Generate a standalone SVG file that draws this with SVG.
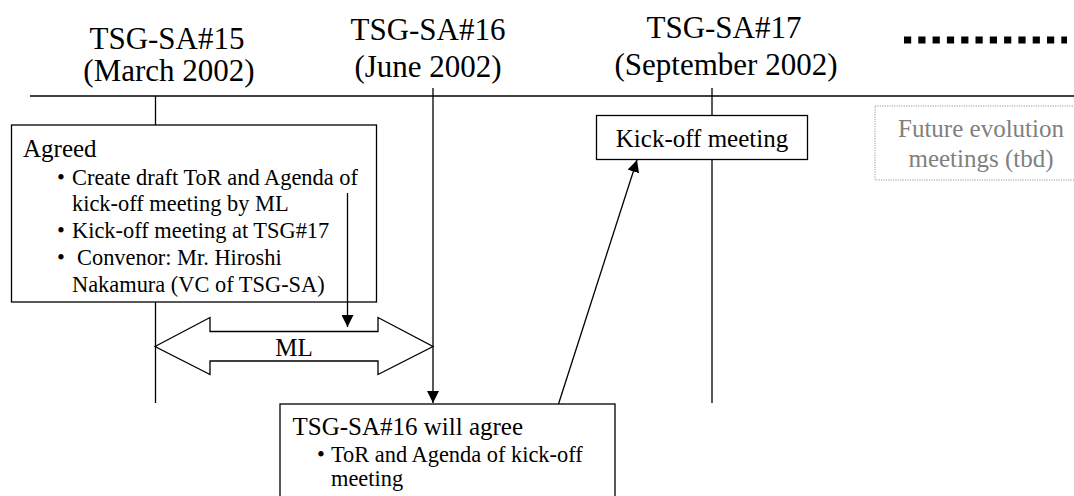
<svg xmlns="http://www.w3.org/2000/svg" width="1074" height="496" viewBox="0 0 1074 496" font-family="'Liberation Serif', 'Times New Roman', 'DejaVu Serif', serif">
<style>
text{font-family:'Liberation Serif','Times New Roman','DejaVu Serif',serif;fill:#000}
.title{font-size:31px;text-anchor:middle}
.head{font-size:25px}
.body{font-size:22.4px}
.line{stroke:#000;stroke-width:1.3;fill:none}
.box{fill:#fff;stroke:#000;stroke-width:1.3}
</style>
<defs>
<marker id="ah" viewBox="0 0 12 12" refX="12" refY="6" markerWidth="12" markerHeight="12" markerUnits="userSpaceOnUse" orient="auto">
<path d="M0,0 L12,6 L0,12 Z" fill="#000"/>
</marker>
</defs>
<rect width="1074" height="496" fill="#fff"/>

<g id="titles">
<text class="title" x="167" y="49">TSG-SA#15</text>
<text class="title" x="169" y="81">(March 2002)</text>
<text class="title" x="428" y="40">TSG-SA#16</text>
<text class="title" x="428" y="77">(June 2002)</text>
<text class="title" x="724" y="38">TSG-SA#17</text>
<text class="title" x="726" y="75">(September 2002)</text>
<line x1="904" y1="40" x2="1067" y2="40" stroke="#000" stroke-width="7" stroke-dasharray="7.2 7.1"/>
</g>

<g id="timeline">
<line class="line" x1="30" y1="96" x2="1074" y2="96" stroke-width="1.5"/>
<line class="line" x1="155.5" y1="96" x2="155.5" y2="403"/>
<line class="line" x1="712" y1="88" x2="712" y2="403"/>
</g>

<g id="agreed">
<rect class="box" x="11.5" y="125" width="365" height="177"/>
<text class="head" x="23" y="157">Agreed</text>
<text class="body" x="57" y="185">•</text>
<text class="body" x="72" y="185">Create draft ToR and Agenda of</text>
<text class="body" x="72" y="211">kick-off meeting by ML</text>
<text class="body" x="57" y="238">•</text>
<text class="body" x="72" y="238">Kick-off meeting at TSG#17</text>
<text class="body" x="57" y="265">•</text>
<text class="body" x="77" y="265">Convenor: Mr. Hiroshi</text>
<text class="body" x="72" y="291.5">Nakamura (VC of TSG-SA)</text>
</g>

<g id="kickoff">
<rect class="box" x="596.5" y="115.5" width="211" height="44"/>
<text class="head" x="702" y="147" text-anchor="middle">Kick-off meeting</text>
</g>

<g id="future">
<rect x="875" y="106" width="215" height="74" fill="#fff" stroke="#999" stroke-width="1" stroke-dasharray="1.2 1.2"/>
<text class="head" x="981" y="137" text-anchor="middle" style="fill:#808080">Future evolution</text>
<text class="head" x="981" y="166.5" text-anchor="middle" style="fill:#808080">meetings (tbd)</text>
</g>

<g id="ml">
<path d="M155,346.5 L210,317.5 L210,331.5 L378,331.5 L378,317.5 L433,346.5 L378,374.5 L378,361 L210,361 L210,374.5 Z" fill="#fff" stroke="#000" stroke-width="1.3"/>
<text class="head" x="294" y="356" text-anchor="middle">ML</text>
</g>

<g id="willagree">
<rect class="box" x="280" y="404" width="335" height="110"/>
<text class="head" x="292.5" y="435">TSG-SA#16 will agree</text>
<text class="body" x="317" y="461.5">•</text>
<text class="body" x="331" y="461.5">ToR and Agenda of kick-off</text>
<text class="body" x="331" y="486">meeting</text>
</g>

<g id="connectors">
<line class="line" x1="347.5" y1="193" x2="347.5" y2="327" marker-end="url(#ah)"/>
<line class="line" x1="433" y1="88" x2="433" y2="403" marker-end="url(#ah)"/>
<line class="line" x1="558.5" y1="404" x2="637" y2="160" marker-end="url(#ah)"/>
</g>
</svg>
